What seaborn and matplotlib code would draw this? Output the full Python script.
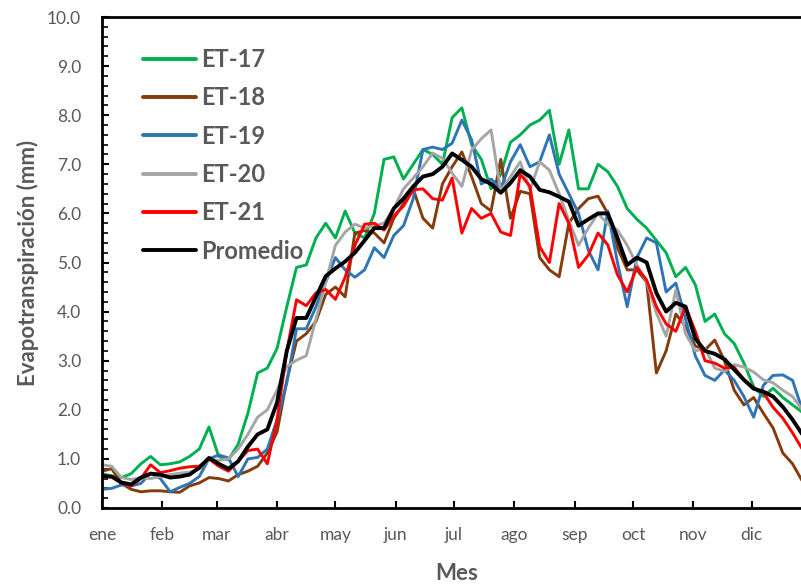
import pandas as pd
import matplotlib.pyplot as plt
import numpy as np
import seaborn as sns

# dia del año (muestreo cada 5 dias)
dias = list(range(0, 365, 5))

et17 = [0.70, 0.65, 0.62, 0.70, 0.90, 1.05, 0.88, 0.90, 0.94, 1.05, 1.20, 1.65, 1.05, 0.98, 1.30,
        1.93, 2.75, 2.85, 3.25, 4.10, 4.90, 4.95, 5.50, 5.80, 5.50, 6.05, 5.60, 5.50, 6.00, 7.10,
        7.15, 6.70, 7.00, 7.30, 7.20, 7.00, 7.95, 8.15, 7.40, 7.10, 6.50, 6.80, 7.45, 7.60, 7.80,
        7.90, 8.10, 7.00, 7.70, 6.50, 6.50, 7.00, 6.85, 6.55, 6.10, 5.88, 5.70, 5.45, 5.20, 4.71,
        4.90, 4.55, 3.80, 3.95, 3.55, 3.35, 2.95, 2.47, 2.27, 2.44, 2.25, 2.10, 1.95]
et18 = [0.75, 0.80, 0.50, 0.38, 0.33, 0.35, 0.35, 0.33, 0.32, 0.45, 0.51, 0.62, 0.60, 0.55, 0.68,
        0.75, 0.85, 1.12, 1.55, 2.60, 3.40, 3.55, 3.80, 4.35, 4.50, 4.30, 5.60, 5.65, 5.60, 5.40,
        5.90, 6.20, 6.50, 5.90, 5.70, 6.60, 6.95, 7.25, 6.75, 6.20, 6.05, 7.10, 5.90, 6.45, 6.40,
        5.10, 4.85, 4.71, 5.80, 6.10, 6.30, 6.35, 6.00, 5.30, 4.85, 4.85, 4.60, 2.75, 3.20, 3.95,
        3.70, 3.30, 3.22, 3.42, 3.00, 2.40, 2.10, 2.25, 1.93, 1.63, 1.12, 0.90, 0.55]
et19 = [0.38, 0.40, 0.47, 0.45, 0.50, 0.71, 0.60, 0.33, 0.42, 0.50, 0.64, 1.00, 1.08, 1.02, 0.64,
        1.00, 1.03, 1.20, 1.80, 2.55, 3.65, 3.65, 4.10, 4.60, 5.10, 4.85, 4.70, 4.85, 5.30, 5.10,
        5.55, 5.75, 6.30, 7.30, 7.35, 7.30, 7.43, 7.90, 7.50, 6.60, 6.70, 6.50, 7.05, 7.40, 6.95,
        7.05, 7.60, 6.80, 6.40, 6.00, 5.25, 4.85, 6.05, 5.00, 4.10, 5.10, 5.50, 5.40, 4.40, 4.58,
        3.85, 3.10, 2.70, 2.60, 2.81, 2.60, 2.27, 1.85, 2.50, 2.70, 2.71, 2.60, 2.00]
et20 = [0.88, 0.85, 0.62, 0.58, 0.62, 0.60, 0.64, 0.68, 0.71, 0.73, 0.80, 0.98, 0.97, 1.00, 1.20,
        1.50, 1.85, 2.00, 2.40, 2.88, 3.01, 3.10, 3.85, 4.60, 5.35, 5.62, 5.78, 5.70, 5.75, 5.80,
        6.10, 6.50, 6.72, 6.95, 7.23, 7.12, 6.82, 6.55, 7.29, 7.52, 7.70, 6.45, 6.75, 7.05, 6.48,
        7.05, 6.88, 6.40, 5.85, 5.35, 5.70, 6.00, 5.78, 5.66, 5.35, 4.95, 4.60, 3.97, 3.50, 4.44,
        3.55, 3.20, 3.25, 2.85, 2.78, 2.92, 2.87, 2.77, 2.61, 2.55, 2.40, 2.27, 2.00]
et21 = [0.62, 0.64, 0.50, 0.45, 0.60, 0.88, 0.72, 0.76, 0.81, 0.84, 0.85, 1.00, 0.85, 0.75, 0.95,
        1.17, 1.20, 0.90, 1.80, 3.20, 4.24, 4.12, 4.38, 4.45, 4.25, 4.70, 5.35, 5.78, 5.80, 5.66,
        5.95, 6.15, 6.48, 6.50, 6.30, 6.27, 6.72, 5.60, 6.10, 5.90, 6.00, 5.62, 5.55, 6.80, 6.55,
        5.32, 5.00, 6.20, 5.80, 4.90, 5.15, 5.60, 5.36, 4.75, 4.40, 4.90, 4.64, 4.10, 3.75, 3.60,
        4.10, 3.60, 3.00, 2.95, 2.85, 2.87, 2.61, 2.45, 2.35, 2.05, 1.83, 1.53, 1.20]
promedio = [0.65, 0.64, 0.52, 0.48, 0.62, 0.70, 0.68, 0.62, 0.64, 0.68, 0.82, 1.02, 0.90, 0.80, 0.95,
            1.25, 1.50, 1.60, 2.15, 3.20, 3.87, 3.87, 4.30, 4.72, 4.88, 5.02, 5.20, 5.45, 5.70, 5.70,
            6.10, 6.30, 6.55, 6.75, 6.80, 6.95, 7.22, 7.09, 6.95, 6.70, 6.60, 6.42, 6.62, 6.88, 6.75,
            6.48, 6.43, 6.34, 6.24, 5.75, 5.88, 6.00, 6.00, 5.50, 4.95, 5.10, 5.00, 4.38, 4.00, 4.18,
            4.10, 3.45, 3.20, 3.14, 3.03, 2.82, 2.61, 2.43, 2.37, 2.27, 2.06, 1.80, 1.50]

series = ['ET-17', 'ET-18', 'ET-19', 'ET-20', 'ET-21', 'Promedio']
colores = ['#00B050', '#843C0C', '#2E75B6', '#A5A5A5', '#FF0000', '#000000']
meses = ['ene', 'feb', 'mar', 'abr', 'may', 'jun', 'jul', 'ago', 'sep', 'oct', 'nov', 'dic']
inicio_mes = [0, 31, 59, 90, 120, 151, 181, 212, 243, 273, 304, 334]

df = pd.DataFrame({'dia': dias, 'ET-17': et17, 'ET-18': et18, 'ET-19': et19,
                   'ET-20': et20, 'ET-21': et21, 'Promedio': promedio})
df = df.melt(id_vars='dia', var_name='serie', value_name='et')

sns.set_style('white')
plt.rcParams['font.family'] = ['Lato', 'DejaVu Sans']
gris = '#595959'

fig = plt.figure(figsize=(8.01, 5.86), dpi=100)
# el eje derecho queda fuera de la imagen (recortado como en el original)
ax = fig.add_axes([102 / 801, 78 / 586, 710 / 801, 491 / 586])

sns.lineplot(data=df[df['serie'] != 'Promedio'], x='dia', y='et', hue='serie',
             hue_order=series[:5], palette=colores[:5], linewidth=2.1, ax=ax)
sns.lineplot(data=df[df['serie'] == 'Promedio'], x='dia', y='et', color='black',
             linewidth=2.8, label='Promedio', ax=ax)

ax.set_xlim(0, 365)
ax.set_ylim(0, 10)
ax.set_xticks(inicio_mes)
ax.set_xticklabels(meses)
ax.set_yticks(np.arange(0, 11, 1))
ax.set_yticklabels(['%.1f' % v for v in range(0, 11)])
ax.set_yticks(np.arange(0, 10.01, 0.2), minor=True)
ax.tick_params(axis='both', which='major', direction='in', length=5, width=1.5,
               labelsize=12.5, labelcolor=gris, color='black')
ax.tick_params(axis='y', which='minor', direction='in', length=4, width=1.2, color='black', left=True)
ax.tick_params(axis='x', which='major', pad=14, bottom=True)
ax.tick_params(axis='y', which='major', pad=15, left=True)

for s in ['left', 'bottom', 'top', 'right']:
    ax.spines[s].set_color('black')
    ax.spines[s].set_linewidth(2)

ax.set_xlabel('Mes', fontsize=16, fontweight='bold', color=gris, labelpad=14)
ax.set_ylabel('Evapotranspiración (mm)', fontsize=16, fontweight='bold', color=gris, labelpad=6)

h, l = ax.get_legend_handles_labels()
leg = ax.legend(h, l, loc='upper left', bbox_to_anchor=(0.058, 0.937), frameon=False,
                fontsize=17, handlelength=2.25, handletextpad=0.2, labelspacing=0.65,
                borderaxespad=0, borderpad=0)
for t in leg.get_texts():
    t.set_fontweight('bold')
    t.set_color(gris)
for ln in leg.get_lines():
    ln.set_linewidth(2.8)

fig.savefig('out.png', dpi=100)
